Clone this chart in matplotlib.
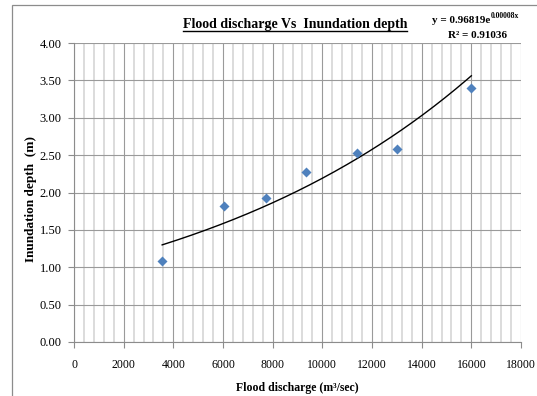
import matplotlib
matplotlib.use("Agg")
import matplotlib.pyplot as plt
import numpy as np
from matplotlib.lines import Line2D
from matplotlib.patches import Rectangle
from matplotlib.ticker import MultipleLocator, FormatStrFormatter

discharge = [3550, 6050, 7730, 9350, 11400, 13000, 16000]
depth = [1.08, 1.82, 1.93, 2.27, 2.53, 2.58, 3.40]

title = "Flood discharge Vs  Inundation depth"
eq_base = "y = 0.96819e"
eq_power = "0.00008x"
r_squared = "R² = 0.91036"

plt.rcParams["font.family"] = ["Liberation Serif", "DejaVu Serif"]

fig = plt.figure(figsize=(5.37, 3.96), dpi=100)
fig.add_artist(Rectangle((12 / 537, -0.1), 1.2, 1 - 5 / 396 + 0.1,
                         transform=fig.transFigure, fill=False,
                         edgecolor="#8c8c8c", linewidth=0.9))
ax = fig.add_axes([74 / 537, 1 - 342 / 396, (521 - 74) / 537, (342 - 43) / 396])

# exponential trend fitted to the points (log-linear least squares)
b, ln_a = np.polyfit(discharge, np.log(depth), 1)
xs = np.linspace(min(discharge), max(discharge), 200)
ax.plot(xs, np.exp(ln_a) * np.exp(b * xs), color="black", lw=1.0, zorder=3)
ax.scatter(discharge, depth, marker="D", s=26, color="#4f81bd", zorder=4, linewidths=0)

ax.set_xlim(0, 18000)
ax.set_ylim(0, 4)
ax.xaxis.set_major_locator(MultipleLocator(2000))
ax.xaxis.set_minor_locator(MultipleLocator(400))
ax.yaxis.set_major_locator(MultipleLocator(0.5))
ax.yaxis.set_major_formatter(FormatStrFormatter("%.2f"))
ax.grid(which="major", axis="both", color="#9a9a9a", lw=0.8)
ax.grid(which="minor", axis="x", color="#d9d9d9", lw=1.3)
ax.set_axisbelow(True)
for s in ["top", "right"]:
    ax.spines[s].set_visible(False)
for s in ["left", "bottom"]:
    ax.spines[s].set_color("#8c8c8c")
ax.tick_params(which="major", length=4, color="#8c8c8c", pad=8)
ax.tick_params(axis="x", labelsize=8.5)
ax.tick_params(axis="y", labelsize=9, pad=5)
ax.tick_params(which="minor", length=0)

fig.text(297 / 537, 1 - 388 / 396, "Flood discharge (m³/sec)",
         ha="center", va="center", fontsize=8.5, fontweight="bold")
fig.text(31 / 537, 1 - 199 / 396, "Inundation depth  (m)", rotation=90,
         ha="center", va="center", fontsize=9.5, fontweight="bold")

t = fig.text(295 / 537, 1 - 28 / 396, title, ha="center", va="baseline",
             fontsize=10, fontweight="bold")
eb = fig.text(432 / 537, 1 - 23 / 396, eq_base, ha="left", va="baseline",
              fontsize=8, fontweight="bold")
fig.text(477 / 537, 1 - 38 / 396, r_squared, ha="center", va="baseline",
         fontsize=8, fontweight="bold")

fig.canvas.draw()
inv = fig.transFigure.inverted()
bb = t.get_window_extent().transformed(inv)
uy = 1 - 31 / 396
fig.add_artist(Line2D([bb.x0, bb.x1], [uy, uy],
                      transform=fig.transFigure, color="black", lw=1.0))
ebb = eb.get_window_extent().transformed(inv)
fig.text(ebb.x1 + 0.5 / 537, 1 - 18 / 396, eq_power, ha="left", va="baseline",
         fontsize=5.5, fontweight="bold")

fig.savefig("out.png", dpi=100)
